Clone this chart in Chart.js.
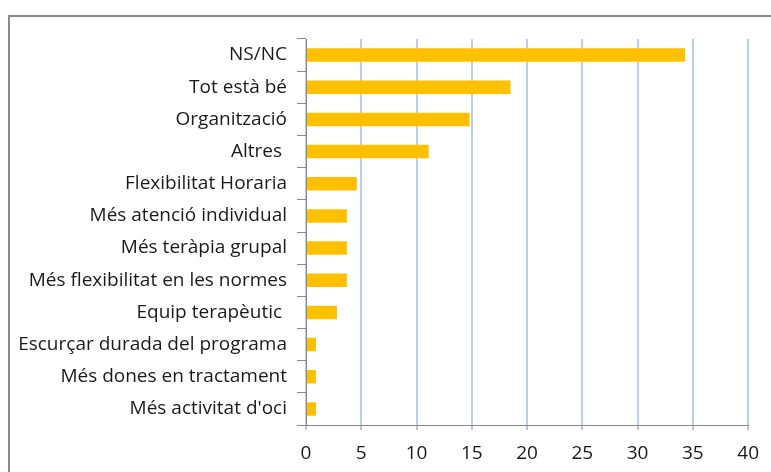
<!DOCTYPE html>
<html>
<head>
<meta charset="utf-8">
<script src="https://cdn.jsdelivr.net/npm/chart.js@4"></script>
<style>
  html, body { margin: 0; padding: 0; background: #fff; }
  #wrap { position: relative; width: 771px; height: 472px; overflow: hidden; }
  #frame { position: absolute; left: 8px; top: 15px; width: 800px; height: 500px;
           border-left: 2px solid #8a8a8a; border-top: 2px solid #8a8a8a; }
  canvas { position: absolute; left: 0; top: 0; }
</style>
</head>
<body>
<div id="wrap">
  <div id="frame"></div>
  <canvas id="chart" width="771" height="472"></canvas>
</div>
<script>
const categories = [
  'NS/NC', 'Tot està bé', 'Organització', 'Altres ', 'Flexibilitat Horaria',
  'Més atenció individual', 'Més teràpia grupal', 'Més flexibilitat en les normes',
  'Equip terapèutic ', 'Escurçar durada del programa', 'Més dones en tractament',
  "Més activitat d'oci"
];
const values = [34.3, 18.5, 14.8, 11.1, 4.6, 3.7, 3.7, 3.7, 2.8, 0.9, 0.9, 0.9];
const xTicks = [0, 5, 10, 15, 20, 25, 30, 35, 40];

const labelFont = { family: 'Open Sans', size: 19 };

new Chart(document.getElementById('chart'), {
  type: 'bar',
  data: {
    labels: categories,
    datasets: [{
      data: values,
      backgroundColor: '#FFC000',
      borderWidth: 0,
      barPercentage: 1,
      categoryPercentage: 0.42
    }]
  },
  options: {
    indexAxis: 'y',
    responsive: false,
    animation: false,
    layout: { padding: { top: 39, left: 0, right: 22, bottom: 0 } },
    plugins: { legend: { display: false }, tooltip: { enabled: false } },
    scales: {
      x: {
        min: 0,
        max: 40,
        afterBuildTicks: scale => { scale.ticks = xTicks.map(v => ({ value: v })); },
        afterFit: scale => { scale.height = 47; },
        grid: { color: '#BCCEE8', lineWidth: 2, tickColor: '#8a8a8a', tickLength: 5, tickWidth: 1 },
        border: { color: '#8a8a8a', width: 1 },
        ticks: { color: '#1a1a1a', font: labelFont, padding: 12, maxRotation: 0 }
      },
      y: {
        afterFit: scale => { scale.width = 306; },
        grid: { display: true, drawOnChartArea: false, drawTicks: true, tickLength: 9,
                color: '#8a8a8a', tickColor: '#8a8a8a', lineWidth: 1 },
        border: { color: '#8a8a8a', width: 1 },
        ticks: { color: '#1a1a1a', font: labelFont, padding: 10, autoSkip: false }
      }
    }
  }
});
</script>
</body>
</html>
